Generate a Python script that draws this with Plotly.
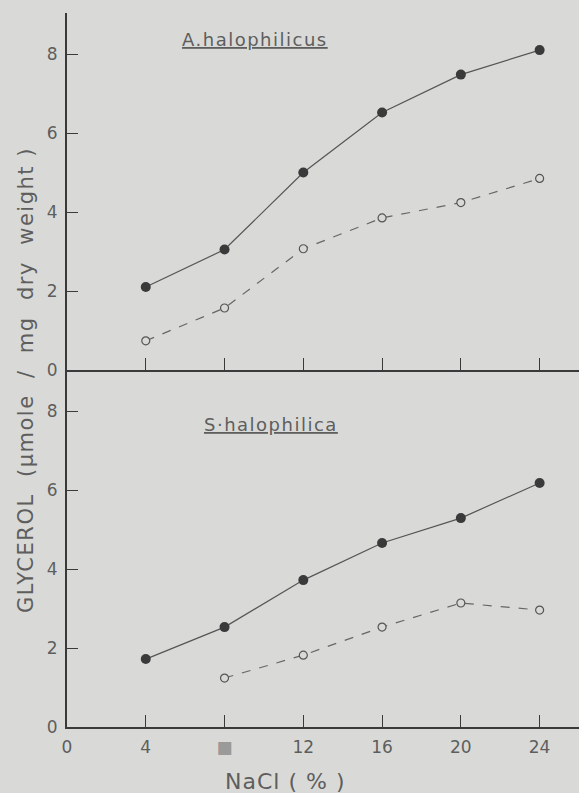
import plotly.graph_objects as go
from plotly.subplots import make_subplots

nacl = [4, 8, 12, 16, 20, 24]
a_filled = [2.1, 3.05, 5.0, 6.52, 7.48, 8.1]
a_open = [0.74, 1.57, 3.07, 3.85, 4.24, 4.85]
s_filled = [1.72, 2.53, 3.72, 4.66, 5.29, 6.18]
s_open_x = [8, 12, 16, 20, 24]
s_open = [1.24, 1.82, 2.53, 3.14, 2.96]

x_tickvals = [0, 4, 8, 12, 16, 20, 24]
x_ticktext = ["0", "4", "<span style='color:#9a9a9a'>■</span>", "12", "16", "20", "24"]
y_tickvals = [0, 2, 4, 6, 8]

BG = "#d9dad7"
INK = "#3a3a3a"
TXT = "#5e5e5e"
FONT = "DejaVu Sans"
NB = "\u00a0"

fig = make_subplots(rows=2, cols=1, vertical_spacing=0)

def add_pair(row, fx, fy, ox, oy):
    fig.add_trace(go.Scatter(x=fx, y=fy, mode="lines+markers",
                             line=dict(color="#555555", width=1.2),
                             marker=dict(symbol="circle", size=10, color=INK),
                             showlegend=False), row=row, col=1)
    fig.add_trace(go.Scatter(x=ox, y=oy, mode="lines+markers",
                             line=dict(color="#666666", width=1.2, dash="dash"),
                             marker=dict(symbol="circle", size=8, color=BG,
                                         line=dict(color="#555555", width=1.2)),
                             showlegend=False), row=row, col=1)

add_pair(1, nacl, a_filled, nacl, a_open)
add_pair(2, nacl, s_filled, s_open_x, s_open)

yrange = [0, 9.04]
common_y = dict(range=yrange, tickvals=y_tickvals, ticks="inside", ticklen=11,
                tickwidth=1.2, tickcolor=INK, showline=True, linecolor=INK,
                linewidth=2, showgrid=False, zeroline=False, ticklabelstandoff=4,
                tickfont=dict(family=FONT, size=17, color=TXT))
common_x = dict(range=[0, 26], tickvals=x_tickvals, ticks="inside", ticklen=12,
                tickwidth=1.2, tickcolor=INK, showline=True, linecolor=INK,
                linewidth=2, showgrid=False, zeroline=False, ticklabelstandoff=4,
                tickfont=dict(family=FONT, size=17, color=TXT))

fig.update_layout(
    width=579, height=793,
    margin=dict(l=67, r=0, t=13, b=66),
    paper_bgcolor=BG, plot_bgcolor=BG,
    xaxis=dict(**common_x, domain=[0, 1], showticklabels=False, anchor="y"),
    yaxis=dict(**common_y, domain=[0.5, 1], anchor="x"),
    xaxis2=dict(**common_x, domain=[0, 1], anchor="y2"),
    yaxis2=dict(**common_y, domain=[0, 0.5], anchor="x2"),
)
fig.update_xaxes(ticktext=x_ticktext, row=2, col=1)

fig.add_annotation(text="<span style='letter-spacing:1.5px'>A.halophilicus</span>",
                   x=9.55, y=8.37, xref="x", yref="y", showarrow=False,
                   font=dict(family=FONT, size=18, color=TXT, lineposition="under"))
fig.add_annotation(text="<span style='letter-spacing:1.5px'>S·halophilica</span>",
                   x=10.35, y=7.65, xref="x2", yref="y2", showarrow=False,
                   font=dict(family=FONT, size=18, color=TXT, lineposition="under"))

ytitle = "GLYCEROL" + NB * 2 + "(μmole" + NB * 2 + "/" + NB * 2 + "mg" + NB * 2 + "dry" + NB * 2 + "weight" + NB + ")"
fig.add_annotation(text="<span style='letter-spacing:1.5px'>" + ytitle + "</span>",
                   textangle=-90,
                   x=0, xref="paper", xshift=-55, y=0.486, yref="paper",
                   showarrow=False,
                   font=dict(family=FONT, size=21, color=TXT))
fig.add_annotation(text="<span style='letter-spacing:1px'>NaCl" + NB + "(" + NB + "%" + NB + ")</span>",
                   x=0.425, xref="paper", y=0, yref="paper",
                   yshift=-69, showarrow=False,
                   font=dict(family=FONT, size=22, color=TXT))

fig.write_html("out.html", config={"displayModeBar": False},
               post_script="document.body.style.margin='0';document.body.style.background='#d9dad7';document.body.style.overflow='hidden';")
